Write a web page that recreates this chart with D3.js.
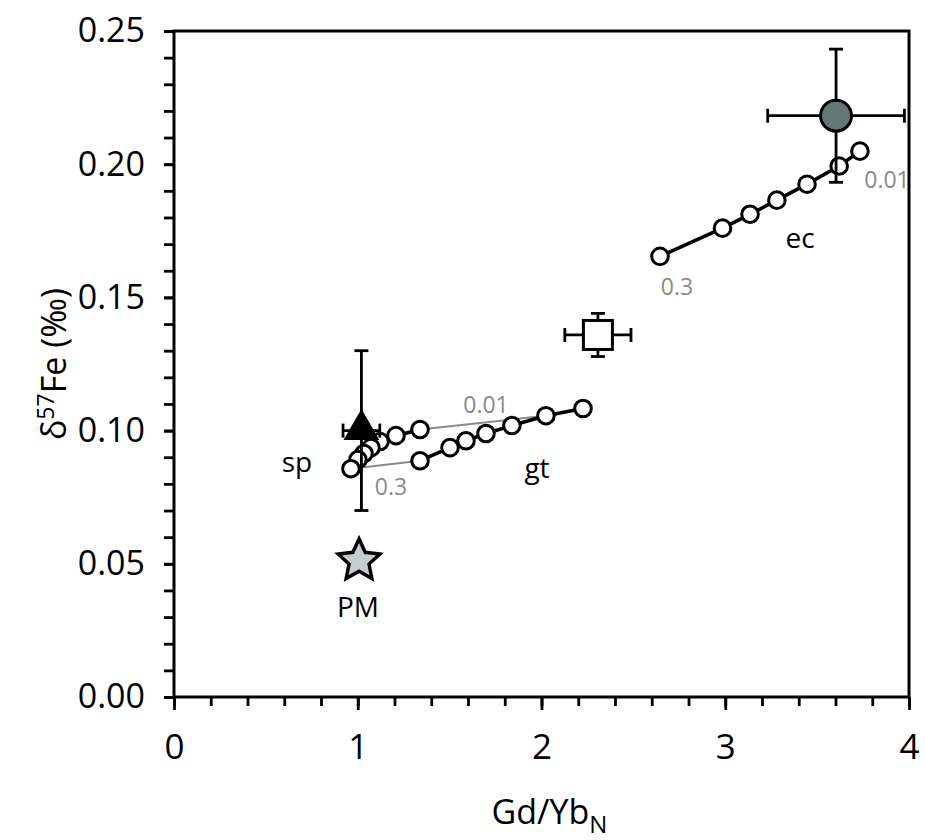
<!DOCTYPE html>
<html>
<head>
<meta charset="utf-8">
<script src="https://cdn.jsdelivr.net/npm/d3@7"></script>
<style>
  body { margin: 0; background: #fff; }
  text { font-family: "Open Sans", "Noto Sans", sans-serif; }
</style>
</head>
<body>
<svg id="chart" width="925" height="840"></svg>
<script>
// ---- data ----
const spX = [0.963, 1.001, 1.034, 1.072, 1.121, 1.208, 1.339];
const spY = [0.0857, 0.0891, 0.0914, 0.0936, 0.0959, 0.0981, 0.1004];
const gtX = [1.339, 1.502, 1.589, 1.698, 1.839, 2.024, 2.226];
const gtY = [0.0887, 0.0936, 0.0962, 0.0989, 0.1019, 0.1056, 0.1083];
const ecX = [2.645, 2.985, 3.135, 3.281, 3.445, 3.620, 3.733];
const ecY = [0.1654, 0.1760, 0.1812, 0.1865, 0.1925, 0.1993, 0.2049];
// samples: [x, y, xErr, yErr]
const ecSample = [3.603, 0.2182, 0.372, 0.025];
const squareSample = [2.307, 0.1359, 0.18, 0.0081];
const triSample = [1.02, 0.1000, 0.10, 0.030];
const pmPoint = [1.007, 0.0515];
const xMajorTicks = [0, 1, 2, 3, 4];
const yMajorTicks = [0, 0.05, 0.10, 0.15, 0.20, 0.25];

const FONT = "'Open Sans', 'Noto Sans', sans-serif";
const svg = d3.select("#chart");
const L = 174, R = 909, T = 31, B = 697;
const x = d3.scaleLinear().domain([0, 4]).range([L, R]);
const y = d3.scaleLinear().domain([0, 0.25]).range([B, T]);

// ---- frame ----
svg.append("rect").attr("x", L).attr("y", T).attr("width", R - L).attr("height", B - T)
  .attr("fill", "none").attr("stroke", "#000").attr("stroke-width", 3);

// ---- axes ----
const xMinor = d3.range(0, 4.0001, 0.2);
svg.append("g").attr("transform", `translate(0,${B})`)
  .call(d3.axisBottom(x).tickValues(xMinor).tickSize(9).tickFormat(""))
  .call(g => { g.select(".domain").remove(); g.selectAll("line").attr("stroke-width", 2.8); });
svg.append("g").attr("transform", `translate(0,${B})`)
  .call(d3.axisBottom(x).tickValues(xMajorTicks).tickSize(13).tickPadding(24).tickFormat(d3.format("d")))
  .call(g => {
    g.select(".domain").remove();
    g.selectAll("line").attr("stroke-width", 2.8);
    g.selectAll("text").attr("font-size", 35).attr("fill", "#000").attr("font-family", FONT);
  });

const yMinor = d3.range(0, 0.2501, 0.01);
svg.append("g").attr("transform", `translate(${L},0)`)
  .call(d3.axisLeft(y).tickValues(yMinor).tickSize(10).tickFormat(""))
  .call(g => { g.select(".domain").remove(); g.selectAll("line").attr("stroke-width", 2.8); });
svg.append("g").attr("transform", `translate(${L},0)`)
  .call(d3.axisLeft(y).tickValues(yMajorTicks).tickSize(10).tickPadding(19).tickFormat(d3.format(".2f")))
  .call(g => {
    g.select(".domain").remove();
    g.selectAll("line").attr("stroke-width", 2.8);
    g.selectAll("text").attr("font-size", 34).attr("fill", "#000").attr("font-family", FONT);
  });

// axis titles
const xt = svg.append("text").attr("x", (L + R) / 2 + 8).attr("y", 824)
  .attr("text-anchor", "middle").attr("font-size", 34);
xt.append("tspan").text("Gd/Yb");
xt.append("tspan").attr("font-size", 24).attr("dy", 9).text("N");

const yt = svg.append("text").attr("transform", `translate(66,${(T + B) / 2}) rotate(-90)`)
  .attr("text-anchor", "middle").attr("font-size", 34);
yt.append("tspan").text("δ");
yt.append("tspan").attr("font-size", 23).attr("dy", -12).text("57");
yt.append("tspan").attr("dy", 12).text("Fe (‰)");

// ---- gray tie lines ----
const gray = "#8a8a8a";
svg.append("line").attr("x1", x(spX[0])).attr("y1", y(spY[0])).attr("x2", x(gtX[0])).attr("y2", y(gtY[0]))
  .attr("stroke", gray).attr("stroke-width", 2);
svg.append("line").attr("x1", x(spX[6])).attr("y1", y(spY[6])).attr("x2", x(gtX[5])).attr("y2", y(gtY[5]))
  .attr("stroke", gray).attr("stroke-width", 2);

// ---- model curves ----
const line = d3.line().x(d => x(d[0])).y(d => y(d[1]));
function series(xs, ys) {
  const pts = xs.map((v, i) => [v, ys[i]]);
  svg.append("path").datum(pts).attr("d", line).attr("fill", "none")
    .attr("stroke", "#000").attr("stroke-width", 3.6);
  svg.append("g").selectAll("circle").data(pts).join("circle")
    .attr("cx", d => x(d[0])).attr("cy", d => y(d[1])).attr("r", 8.3)
    .attr("fill", "#fff").attr("stroke", "#000").attr("stroke-width", 3);
}
series(gtX, gtY);
series(spX.slice().reverse(), spY.slice().reverse());
series(ecX, ecY);

// ---- error bars ----
function errBar(s, cap) {
  const [cx, cy, ex, ey] = s;
  const g = svg.append("g").attr("stroke", "#000").attr("stroke-width", 2.8);
  g.append("line").attr("x1", x(cx - ex)).attr("x2", x(cx + ex)).attr("y1", y(cy)).attr("y2", y(cy));
  g.append("line").attr("x1", x(cx)).attr("x2", x(cx)).attr("y1", y(cy - ey)).attr("y2", y(cy + ey));
  g.append("line").attr("x1", x(cx - ex)).attr("x2", x(cx - ex)).attr("y1", y(cy) - cap).attr("y2", y(cy) + cap);
  g.append("line").attr("x1", x(cx + ex)).attr("x2", x(cx + ex)).attr("y1", y(cy) - cap).attr("y2", y(cy) + cap);
  g.append("line").attr("y1", y(cy - ey)).attr("y2", y(cy - ey)).attr("x1", x(cx) - cap).attr("x2", x(cx) + cap);
  g.append("line").attr("y1", y(cy + ey)).attr("y2", y(cy + ey)).attr("x1", x(cx) - cap).attr("x2", x(cx) + cap);
}
errBar(ecSample, 7);
errBar(squareSample, 7);
errBar(triSample, 7);

// ---- sample symbols ----
svg.append("circle").attr("cx", x(ecSample[0])).attr("cy", y(ecSample[1])).attr("r", 15.5)
  .attr("fill", "#637774").attr("stroke", "#000").attr("stroke-width", 3);
svg.append("rect").attr("x", x(squareSample[0]) - 14.5).attr("y", y(squareSample[1]) - 14.5)
  .attr("width", 29).attr("height", 29).attr("fill", "#fff").attr("stroke", "#000").attr("stroke-width", 3);
svg.append("path").attr("d", d3.symbol(d3.symbolTriangle, 480)())
  .attr("transform", `translate(${x(triSample[0])},${y(triSample[1]) - 1})`)
  .attr("fill", "#000").attr("stroke", "#000").attr("stroke-width", 1.5);
// five-pointed star with a fuller body
const starPts = d3.range(10).map(i => {
  const a = -Math.PI / 2 + i * Math.PI / 5;
  const r = i % 2 === 0 ? 22 : 10.5;
  return [r * Math.cos(a), r * Math.sin(a)];
});
svg.append("path").attr("d", "M" + starPts.map(p => p.join(",")).join("L") + "Z")
  .attr("transform", `translate(${x(pmPoint[0])},${y(pmPoint[1]) + 1})`)
  .attr("fill", "#c3cdcd").attr("stroke", "#000").attr("stroke-width", 3.4).attr("stroke-linejoin", "miter");

// ---- labels ----
function label(t, px, py, size, color) {
  svg.append("text").attr("x", px).attr("y", py).attr("text-anchor", "middle")
    .attr("font-size", size).attr("fill", color).text(t);
}
label("sp", 297, 472, 28, "#000");
label("gt", 537, 478, 28, "#000");
label("ec", 800, 248, 28, "#000");
label("PM", 358, 617, 28, "#000");
label("0.01", 486, 413, 23, gray);
label("0.3", 391, 495, 23, gray);
label("0.3", 677, 295, 23, gray);
label("0.01", 887, 188, 23, gray);
</script>
</body>
</html>
